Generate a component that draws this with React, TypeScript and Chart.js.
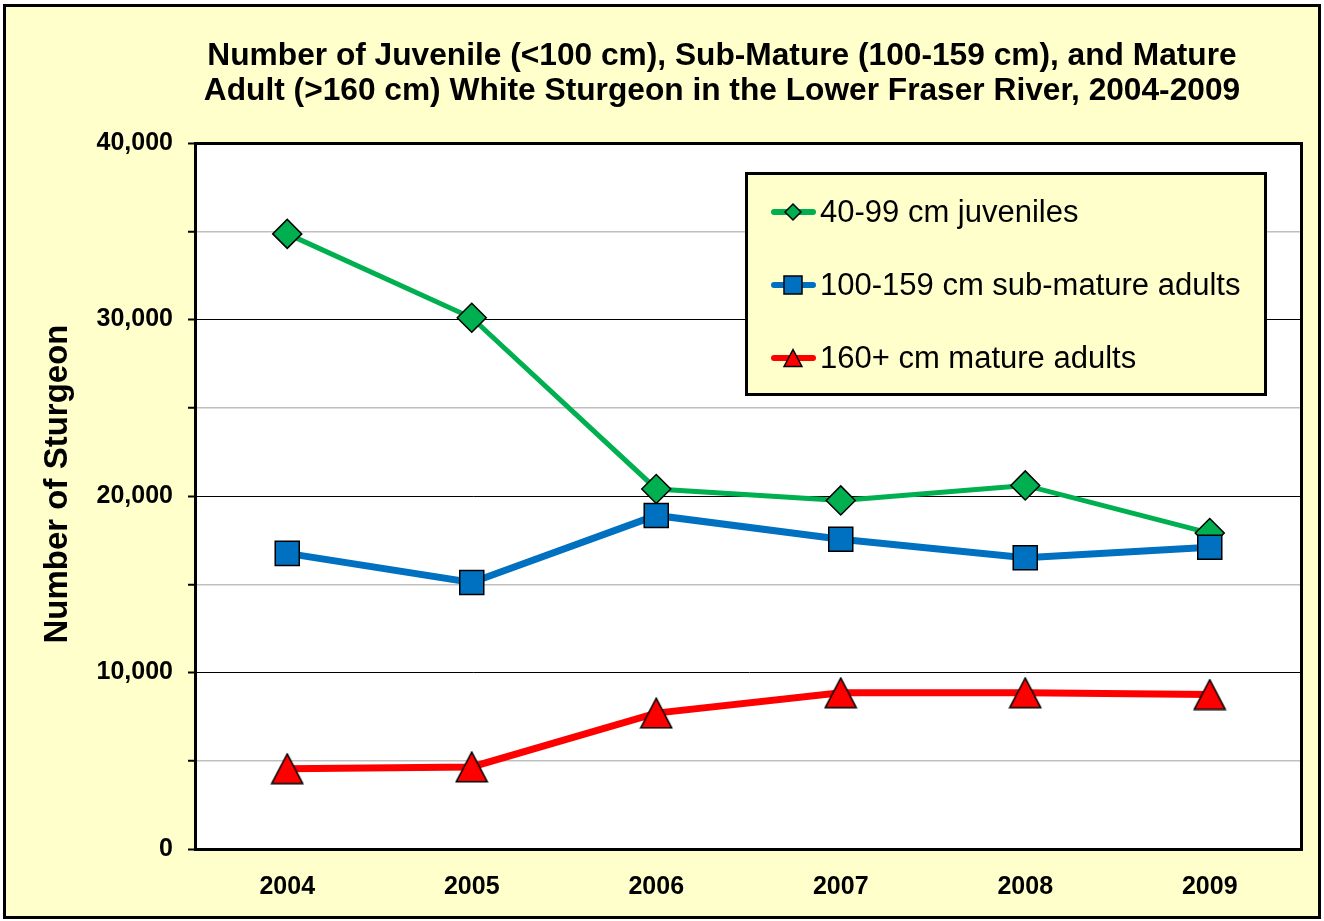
import React, { useEffect, useRef } from 'react';
import { Chart, registerables } from 'chart.js';

Chart.register(...registerables);

const years = ['2004', '2005', '2006', '2007', '2008', '2009'];
const juveniles = [34850, 30100, 20400, 19750, 20600, 17900];
const subMature = [16750, 15100, 18900, 17550, 16500, 17100];
const mature = [4550, 4650, 7700, 8850, 8850, 8750];
const seriesLabels = ['40-99 cm juveniles', '100-159 cm sub-mature adults', '160+ cm mature adults'];
const titleLines = [
  'Number of Juvenile (<100 cm), Sub-Mature (100-159 cm), and Mature',
  'Adult (>160 cm) White Sturgeon in the Lower Fraser River, 2004-2009',
];
const yAxisTitle = 'Number of Sturgeon';
const yMin = 0;
const yMax = 40000;
const yStep = 5000;
const yLabelStep = 10000;

const FONT = '"Liberation Sans", Arial, Helvetica, sans-serif';

function shapePath(ctx: CanvasRenderingContext2D, style: string, x: number, y: number, s: number) {
  ctx.beginPath();
  if (style === 'diamond') {
    ctx.moveTo(x, y - s);
    ctx.lineTo(x + s, y);
    ctx.lineTo(x, y + s);
    ctx.lineTo(x - s, y);
  } else if (style === 'square') {
    ctx.rect(x - s, y - s, 2 * s, 2 * s);
  } else {
    ctx.moveTo(x, y - s);
    ctx.lineTo(x + s * 1.05, y + s);
    ctx.lineTo(x - s * 1.05, y + s);
  }
  ctx.closePath();
}

function makeTriangle(color: string) {
  const c = document.createElement('canvas');
  c.width = 34;
  c.height = 32;
  const g = c.getContext('2d')!;
  g.beginPath();
  g.moveTo(17, 1.2);
  g.lineTo(32.5, 30.8);
  g.lineTo(1.5, 30.8);
  g.closePath();
  g.fillStyle = color;
  g.fill();
  g.lineWidth = 1.5;
  g.strokeStyle = '#000000';
  g.lineJoin = 'miter';
  g.stroke();
  return c;
}

const decorPlugin = {
  id: 'decor',
  beforeDraw(chart: any) {
    const { ctx, width, height, chartArea: a } = chart;
    ctx.save();
    ctx.fillStyle = '#ffffff';
    ctx.fillRect(0, 0, width, height);
    ctx.fillStyle = '#FFFFCC';
    ctx.fillRect(4, 5, 1316, 913);
    ctx.lineWidth = 3;
    ctx.strokeStyle = '#000000';
    ctx.strokeRect(4.5, 5.5, 1315, 912);
    ctx.fillStyle = '#ffffff';
    ctx.fillRect(a.left, a.top, a.right - a.left, a.bottom - a.top);
    ctx.restore();
  },
  beforeDatasetsDraw(chart: any) {
    const { ctx, chartArea: a } = chart;
    ctx.save();
    ctx.strokeStyle = '#000000';
    ctx.lineWidth = 3;
    ctx.beginPath();
    ctx.moveTo(a.left, a.top + 0.5);
    ctx.lineTo(a.right - 0.5, a.top + 0.5);
    ctx.lineTo(a.right - 0.5, a.bottom);
    ctx.stroke();
    ctx.restore();
  },
  afterDraw(chart: any) {
    const { ctx } = chart;
    ctx.save();
    // Title
    ctx.fillStyle = '#000000';
    ctx.font = `bold 31.7px ${FONT}`;
    ctx.textAlign = 'center';
    ctx.textBaseline = 'alphabetic';
    titleLines.forEach((t, i) => ctx.fillText(t, 722, 65 + i * 35));
    // Y axis title
    ctx.save();
    ctx.translate(58, 484);
    ctx.rotate(-Math.PI / 2);
    ctx.font = `bold 33px ${FONT}`;
    ctx.textBaseline = 'middle';
    ctx.fillText(yAxisTitle, 0, 0);
    ctx.restore();
    // Legend
    const bx = 746, by = 173, bw = 519, bh = 221;
    ctx.fillStyle = '#FFFFCC';
    ctx.fillRect(bx, by, bw, bh);
    ctx.strokeStyle = '#000000';
    ctx.lineWidth = 3;
    ctx.strokeRect(bx + 0.5, by + 0.5, bw, bh);
    const sizes: Record<string, number> = { diamond: 8, square: 9, triangle: 8.5 };
    chart.data.datasets.forEach((ds: any, i: number) => {
      const cy = 212 + i * 73;
      ctx.strokeStyle = ds.borderColor;
      ctx.lineWidth = 6;
      ctx.lineCap = 'round';
      ctx.beginPath();
      ctx.moveTo(774, cy);
      ctx.lineTo(813, cy);
      ctx.stroke();
      ctx.lineCap = 'butt';
      shapePath(ctx, ds.legendShape, 793, cy, sizes[ds.legendShape]);
      ctx.fillStyle = ds.pointBackgroundColor;
      ctx.fill();
      ctx.lineWidth = 1.5;
      ctx.strokeStyle = '#000000';
      ctx.stroke();
      ctx.fillStyle = '#000000';
      ctx.font = `31px ${FONT}`;
      ctx.textAlign = 'left';
      ctx.textBaseline = 'middle';
      ctx.fillText(ds.label, 820, cy + 1);
    });
    ctx.restore();
  },
};

export default function App() {
  const ref = useRef<HTMLCanvasElement | null>(null);
  useEffect(() => {
    if (!ref.current) return;
    const tri = makeTriangle('#FF0000');
    const chart = new Chart(ref.current, {
      type: 'line',
      data: {
        labels: years,
        datasets: [
          {
            label: seriesLabels[0],
            data: juveniles,
            borderColor: '#00B050',
            backgroundColor: '#00B050',
            pointBackgroundColor: '#00B050',
            pointBorderColor: '#000000',
            pointBorderWidth: 1.5,
            pointStyle: 'rectRot',
            legendShape: 'diamond',
            pointRadius: 14.5,
            borderWidth: 5,
            tension: 0,
            order: 2,
          },
          {
            label: seriesLabels[1],
            data: subMature,
            borderColor: '#0070C0',
            backgroundColor: '#0070C0',
            pointBackgroundColor: '#0070C0',
            pointBorderColor: '#000000',
            pointBorderWidth: 1.5,
            pointStyle: 'rect',
            legendShape: 'square',
            pointRadius: 17,
            borderWidth: 7,
            tension: 0,
            order: 1,
          },
          {
            label: seriesLabels[2],
            data: mature,
            borderColor: '#FF0000',
            backgroundColor: '#FF0000',
            pointBackgroundColor: '#FF0000',
            pointBorderColor: '#000000',
            pointBorderWidth: 1.5,
            pointStyle: tri,
            legendShape: 'triangle',
            pointRadius: 18,
            borderWidth: 7,
            tension: 0,
            order: 0,
          },
        ],
      },
      options: {
        animation: false,
        responsive: true,
        maintainAspectRatio: false,
        layout: { padding: { left: 0, top: 143, right: 22, bottom: 0 } },
        plugins: {
          legend: { display: false },
          title: { display: false },
          tooltip: { enabled: false },
        },
        scales: {
          x: {
            type: 'category',
            offset: true,
            grid: { display: false, drawTicks: false },
            border: { display: true, color: '#000000', width: 3 },
            ticks: {
              color: '#000000',
              font: { family: FONT, size: 25, weight: 'bold' },
              padding: 23,
            },
            afterFit(scale: any) {
              scale.height = 72;
            },
          },
          y: {
            min: yMin,
            max: yMax,
            border: { display: true, color: '#000000', width: 3 },
            grid: {
              color: (c: any) => (c.tick && c.tick.value % yLabelStep === 0 ? '#000000' : '#BFBFBF'),
              lineWidth: (c: any) => (c.tick && c.tick.value % yLabelStep === 0 ? 1 : 1.5),
              tickColor: '#000000',
              tickLength: 7,
              tickWidth: 2,
            },
            ticks: {
              stepSize: yStep,
              color: '#000000',
              font: { family: FONT, size: 25, weight: 'bold' },
              padding: 15,
              callback: (v: any) => (Number(v) % yLabelStep === 0 ? Number(v).toLocaleString('en-US') : ''),
            },
            afterFit(scale: any) {
              scale.width = 195;
            },
          },
        },
      },
      plugins: [decorPlugin],
    } as any);
    return () => chart.destroy();
  }, []);
  return (
    <div style={{ position: 'absolute', left: 0, top: 0, width: 1324, height: 921 }}>
      <canvas ref={ref} />
    </div>
  );
}
